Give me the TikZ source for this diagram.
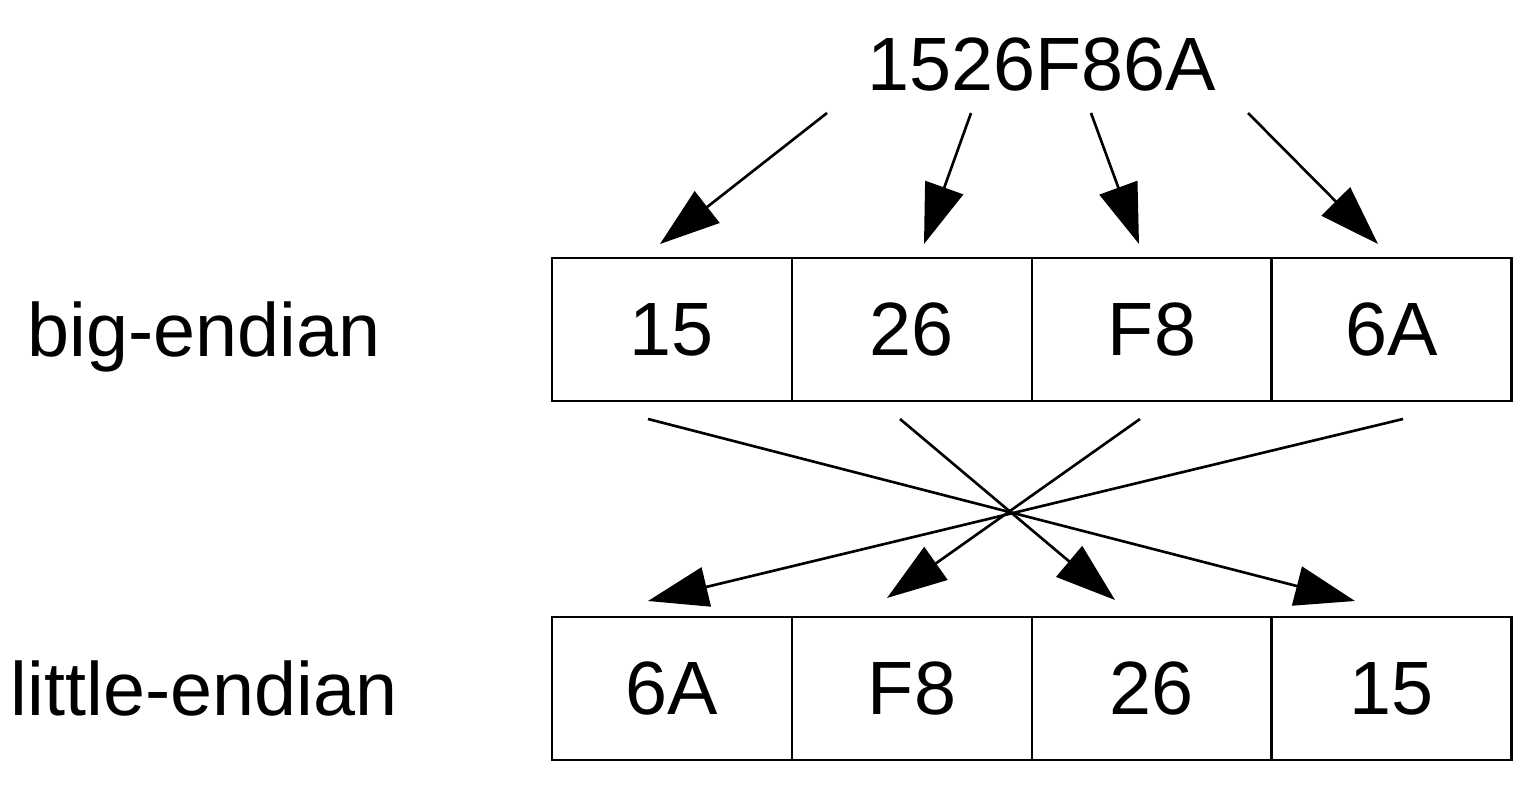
\documentclass[tikz,border=0pt]{standalone}
\usepackage{fontspec}
\setmainfont{Liberation Sans}
\usetikzlibrary{arrows.meta}
\tikzset{
  cell/.style={draw,line width=1.5pt,minimum width=4.8cm,minimum height=2.86cm,inner sep=0pt},
  big/.style={font=\fontsize{43}{50}\selectfont},
  tip/.style={-{Triangle[length=1.2cm,width=0.8cm]},line width=1.5pt}
}
\begin{document}
\begin{tikzpicture}[x=0.02cm,y=-0.02cm,big]
\useasboundingbox (0,0) rectangle (1536,804);
\node(num)[anchor=base] at (1042,91) {1526F86A};
\node(bigl)[anchor=base] at (204,357) {big-endian};
\node(littlel)[anchor=base] at (204,715) {little-endian};

% big-endian row
\node(b1)[cell] at (672,329.5) {15};
\node(b2)[cell] at (912,329.5) {26};
\node(b3)[cell] at (1152,329.5) {F8};
\node(b4)[cell] at (1391.5,329.5) {6A};
% little-endian row
\node(l1)[cell] at (672,688.5) {6A};
\node(l2)[cell] at (912,688.5) {F8};
\node(l3)[cell] at (1152,688.5) {26};
\node(l4)[cell] at (1391.5,688.5) {15};

\coordinate(n1) at (827,113);
\coordinate(n2) at (971,113);
\coordinate(n3) at (1091,113);
\coordinate(n4) at (1248,113);
\coordinate(t1) at (660,244);
\coordinate(t2) at (924,244);
\coordinate(t3) at (1139,244);
\coordinate(t4) at (1378,244);
\foreach \i in {1,...,4} \draw[tip] (n\i) -- (t\i);

\coordinate(s1) at (648,419);
\coordinate(s2) at (900,419);
\coordinate(s3) at (1140,419);
\coordinate(s4) at (1403,419);
\coordinate(e1) at (1355,601);
\coordinate(e2) at (1115,600);
\coordinate(e3) at (887,598);
\coordinate(e4) at (648,601);
\foreach \i in {1,...,4} \draw[tip] (s\i) -- (e\i);
\end{tikzpicture}
\end{document}
